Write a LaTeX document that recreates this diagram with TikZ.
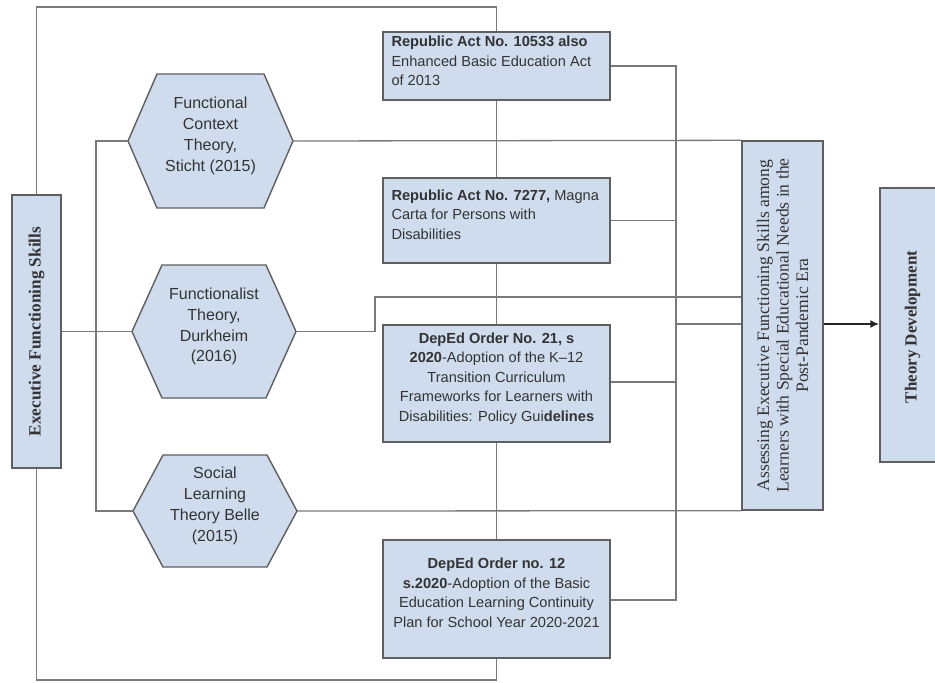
\documentclass[tikz,border=0pt]{standalone}
\usepackage{fontspec}
\setmainfont{Liberation Serif}
\setsansfont{Liberation Sans}
\usetikzlibrary{arrows.meta,calc}
\definecolor{boxfill}{HTML}{CFDCEE}
\definecolor{boxline}{HTML}{5F5F5F}
\definecolor{conn}{HTML}{7A7A7A}
\definecolor{txt}{HTML}{333333}
\tikzset{
  conline/.style={draw=conn, line width=1.3pt},
  boxshape/.style={draw=boxline, fill=boxfill, line width=1.4pt, inner sep=0pt},
  hexshape/.style={draw=boxline, fill=boxfill, line width=1.4pt, line join=miter},
  sanstext/.style={font=\sffamily\fontsize{14.6}{19.5}\selectfont, text=txt, inner sep=0pt},
  hextext/.style={sanstext, align=center, font=\sffamily\fontsize{16}{20.8}\selectfont},
  vtext/.style={font=\rmfamily\fontsize{15}{20}\selectfont, text=txt, inner sep=0pt, rotate=90, align=center},
}
% hexagon: name, cx, cy, half width, half height, inset, text
\newcommand\hexagonbox[7]{%
  \draw[hexshape] ({#2-#4},{#3}) -- ({#2-#4+#6},{#3-#5}) -- ({#2+#4-#6},{#3-#5}) -- ({#2+#4},{#3})
     -- ({#2+#4-#6},{#3+#5}) -- ({#2-#4+#6},{#3+#5}) -- cycle;
  \coordinate (#1-w) at ({#2-#4},{#3});
  \coordinate (#1-e) at ({#2+#4},{#3});
  \node[hextext, yshift=5pt] (#1) at ({#2},{#3}) {#7};
}
\begin{document}
\begin{tikzpicture}[x=1pt,y=-1pt]
\clip (0,0) rectangle (935,683);
\fill[white] (0,0) rectangle (935,683);

% ---------- nodes (boxes) ----------
\node[boxshape, minimum width=49pt, minimum height=273pt] (efs) at (36.5,331.5) {};
\node[boxshape, minimum width=227pt, minimum height=68pt] (ra1) at (496.5,66) {};
\node[boxshape, minimum width=227pt, minimum height=85pt] (ra2) at (496.5,220.5) {};
\node[boxshape, minimum width=227pt, minimum height=117pt] (do21) at (496.5,383.5) {};
\node[boxshape, minimum width=227pt, minimum height=118pt] (do12) at (496.5,599) {};
\node[boxshape, minimum width=81pt, minimum height=369pt] (assess) at (782.5,325.5) {};
\node[boxshape, minimum width=65pt, minimum height=274pt] (theory) at (912.5,325) {};

% ---------- connectors ----------
% outer frame
\draw[conline] (efs.north) -- (36.5,7) -| (ra1.north);
\draw[conline] (efs.south) -- (36.5,680) -| (do12.south);
% central spine
\draw[conline] (ra1.south) -- (ra2.north);
\draw[conline] (ra2.south) -- (do21.north);
\draw[conline] (do21.south) -- (do12.north);
% right bus
\coordinate (busTop) at (676,66);
\coordinate (busBot) at (676,600);
\draw[conline] (ra1.east) -- (busTop) -- (busBot) -- (do12.east |- busBot);
\draw[conline] (ra2.east) -- (676,220.5);
\draw[conline] (do21.east |- 0,382) -- (676,382);
\draw[conline] (676,324) -- (assess.west |- 0,324);

% hexagons
\hexagonbox{fc}{210.5}{141}{82.5}{67}{29}{Functional\\Context\\Theory,\\Sticht (2015)}
\hexagonbox{fl}{214}{331.5}{82}{66.5}{30}{Functionalist\\Theory,\\Durkheim\\(2016)}
\hexagonbox{sl}{215}{511}{82}{56}{30}{Social\\Learning\\Theory Belle\\(2015)}

% left bus
\draw[conline] (fc-w) -- (96,141) -- (96,511) -- (sl-w);
\draw[conline] (efs.east |- fl-w) -- (fl-w);

% lines to assessing box
\draw[conline] (fc-e) -- (assess.north west);
\draw[conline] (fl-e) -- (375,331.5) -- (375,297) -- (assess.west |- 0,297);
\draw[conline] (sl-e) -- (assess.south west);

% redraw boxes on top of connectors
\node[boxshape, minimum width=227pt, minimum height=68pt] at (496.5,66) {};
\node[boxshape, minimum width=227pt, minimum height=85pt] at (496.5,220.5) {};
\node[boxshape, minimum width=227pt, minimum height=117pt] at (496.5,383.5) {};
\node[boxshape, minimum width=227pt, minimum height=118pt] at (496.5,599) {};
\node[boxshape, minimum width=81pt, minimum height=369pt] at (782.5,325.5) {};

% box texts
\node[sanstext, align=left, anchor=west, xshift=9pt, yshift=5pt] (ra1t) at (ra1.west)
  {\textbf{Republic Act No. 10533 also}\\Enhanced Basic Education Act\\of 2013};
\node[sanstext, align=left, anchor=west, xshift=9pt, yshift=6pt] (ra2t) at (ra2.west)
  {\textbf{Republic Act No. 7277,} Magna\\Carta for Persons with\\Disabilities};
\node[sanstext, align=center, yshift=5pt] (do21t) at (do21.center)
  {\textbf{DepEd Order No. 21, s}\\\textbf{2020}-Adoption of the K--12\\Transition Curriculum\\Frameworks for Learners with\\Disabilities: Policy Gui\textbf{delines}};
\node[sanstext, align=center, yshift=6pt] (do12t) at (do12.center)
  {\textbf{DepEd Order no. 12}\\\textbf{s.2020}-Adoption of the Basic\\Education Learning Continuity\\Plan for School Year 2020-2021};

\node[vtext, font=\rmfamily\bfseries\fontsize{17.2}{20}\selectfont] (efst) at (efs.center) {Executive Functioning Skills};
\node[vtext, font=\rmfamily\fontsize{17.6}{19.5}\selectfont] (assesst) at (assess.center)
  {Assessing Executive Functioning Skills among\\Learners with Special Educational Needs in the\\Post-Pandemic Era};
\node[vtext, font=\rmfamily\bfseries\fontsize{17}{20}\selectfont, xshift=-2pt] (theoryt) at (theory.center) {Theory Development};

% arrow
\draw[draw=black!85, line width=2pt, -{Latex[length=9pt,width=8pt]}] (assess.east |- 0,324) -- (theory.west |- 0,324);
\end{tikzpicture}
\end{document}
